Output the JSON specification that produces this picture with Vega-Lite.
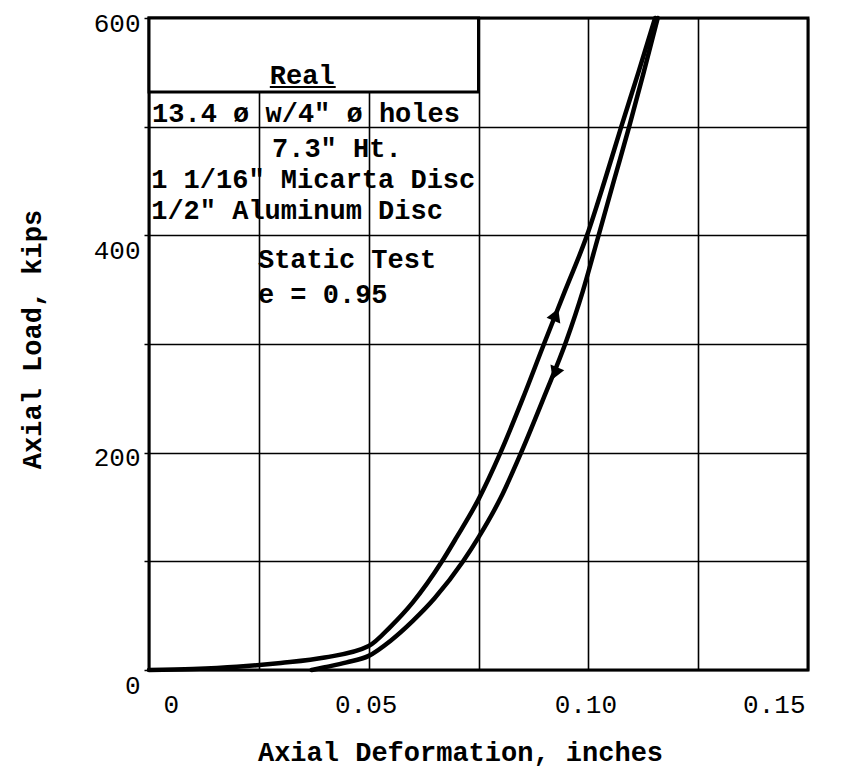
{
  "$schema": "https://vega.github.io/schema/vega-lite/v6.json",
  "width": 659,
  "height": 652,
  "autosize": {"type": "none"},
  "padding": {"left": 149, "top": 18, "right": 42, "bottom": 112},
  "background": "white",
  "config": {
    "view": {"stroke": "black", "strokeWidth": 3},
    "font": "Liberation Mono"
  },
  "datasets": {
    "curves": [
      {"series": "loading", "d": 0, "p": 0},
      {"series": "loading", "d": 0.01, "p": 1},
      {"series": "loading", "d": 0.02, "p": 3},
      {"series": "loading", "d": 0.03, "p": 6.5},
      {"series": "loading", "d": 0.04, "p": 11.5},
      {"series": "loading", "d": 0.05, "p": 22},
      {"series": "loading", "d": 0.055, "p": 40},
      {"series": "loading", "d": 0.06, "p": 62},
      {"series": "loading", "d": 0.0667, "p": 100},
      {"series": "loading", "d": 0.07, "p": 122},
      {"series": "loading", "d": 0.075, "p": 157},
      {"series": "loading", "d": 0.08, "p": 200},
      {"series": "loading", "d": 0.085, "p": 249},
      {"series": "loading", "d": 0.0899, "p": 300},
      {"series": "loading", "d": 0.0948, "p": 350},
      {"series": "loading", "d": 0.0997, "p": 400},
      {"series": "loading", "d": 0.1037, "p": 450},
      {"series": "loading", "d": 0.1075, "p": 500},
      {"series": "loading", "d": 0.1114, "p": 550},
      {"series": "loading", "d": 0.1152, "p": 600},
      {"series": "unloading", "d": 0.037, "p": 0},
      {"series": "unloading", "d": 0.04, "p": 2.5},
      {"series": "unloading", "d": 0.045, "p": 7},
      {"series": "unloading", "d": 0.05, "p": 13},
      {"series": "unloading", "d": 0.055, "p": 27},
      {"series": "unloading", "d": 0.06, "p": 45},
      {"series": "unloading", "d": 0.065, "p": 66},
      {"series": "unloading", "d": 0.0715, "p": 100},
      {"series": "unloading", "d": 0.075, "p": 122},
      {"series": "unloading", "d": 0.08, "p": 158},
      {"series": "unloading", "d": 0.0847, "p": 200},
      {"series": "unloading", "d": 0.09, "p": 252},
      {"series": "unloading", "d": 0.095, "p": 303},
      {"series": "unloading", "d": 0.0987, "p": 348},
      {"series": "unloading", "d": 0.1022, "p": 398},
      {"series": "unloading", "d": 0.1058, "p": 450},
      {"series": "unloading", "d": 0.1093, "p": 500},
      {"series": "unloading", "d": 0.1126, "p": 550},
      {"series": "unloading", "d": 0.1158, "p": 600}
    ],
    "arrows": [
      {"dir": "up", "d": 0.0926, "p": 327},
      {"dir": "down", "d": 0.0924, "p": 273}
    ],
    "box": [
      {"d": 0, "d2": 0.075, "p": 532, "p2": 600}
    ],
    "underline": [
      {"d": 0.0275, "d2": 0.0425, "p": 536.5}
    ],
    "notes": [
      {"text": "Real", "d": 0.0275, "p": 539},
      {"text": "13.4 ø w/4\" ø holes", "d": 0.0007, "p": 504},
      {"text": "7.3\" Ht.", "d": 0.028, "p": 472},
      {"text": "1 1/16\" Micarta Disc", "d": 0.0005, "p": 444},
      {"text": "1/2\" Aluminum Disc", "d": 0.0005, "p": 415},
      {"text": "Static Test", "d": 0.0248, "p": 370},
      {"text": "e = 0.95", "d": 0.0248, "p": 338}
    ]
  },
  "encoding": {
    "x": {
      "field": "d",
      "type": "quantitative",
      "scale": {"domain": [0, 0.15], "nice": false, "zero": false},
      "axis": {
        "title": "Axial Deformation, inches",
        "values": [0, 0.025, 0.05, 0.075, 0.1, 0.125, 0.15],
        "labelExpr": "datum.value === 0 ? '0' : (abs(datum.value * 20 - round(datum.value * 20)) < 0.000001 ? format(datum.value, '.2f') : '')",
        "grid": true,
        "gridColor": "black",
        "gridWidth": 1.6,
        "gridOpacity": 1,
        "domain": false,
        "ticks": false,
        "labelFont": "Liberation Mono",
        "labelFontSize": 26,
        "labelColor": "black",
        "labelPadding": 21,
        "labelOffset": {"condition": {"test": "datum.value === 0", "value": 14}, "value": -3},
        "titleFont": "Liberation Mono",
        "titleFontSize": 27,
        "titleFontWeight": "bold",
        "titleColor": "black",
        "titleX": 311,
        "titleY": 90,
        "titleAlign": "center",
        "titleBaseline": "alphabetic"
      }
    },
    "y": {
      "field": "p",
      "type": "quantitative",
      "scale": {"domain": [0, 600], "nice": false, "zero": false},
      "axis": {
        "title": "Axial Load, kips",
        "values": [0, 100, 200, 300, 400, 500, 600],
        "labelExpr": "datum.value % 200 === 0 ? datum.label : ''",
        "grid": true,
        "gridColor": "black",
        "gridWidth": 1.6,
        "gridOpacity": 1,
        "domain": false,
        "ticks": true,
        "tickSize": 5,
        "tickColor": "black",
        "tickWidth": 1.5,
        "labelFont": "Liberation Mono",
        "labelFontSize": 26,
        "labelColor": "black",
        "labelPadding": 4,
        "labelOffset": {"condition": {"test": "datum.value === 0 || datum.value === 400", "value": 15}, "value": 5},
        "titleFont": "Liberation Mono",
        "titleFontSize": 27,
        "titleFontWeight": "bold",
        "titleColor": "black",
        "titleX": -117,
        "titleY": 321,
        "titleAngle": -90,
        "titleAlign": "center",
        "titleBaseline": "middle"
      }
    }
  },
  "layer": [
    {
      "data": {"name": "box"},
      "mark": {"type": "rect", "fill": "white", "stroke": "black", "strokeWidth": 3},
      "encoding": {
        "x2": {"field": "d2"},
        "y2": {"field": "p2"}
      }
    },
    {
      "data": {"name": "underline"},
      "mark": {"type": "rule", "color": "black", "strokeWidth": 2},
      "encoding": {
        "x2": {"field": "d2"}
      }
    },
    {
      "data": {"name": "notes"},
      "mark": {"type": "text", "align": "left", "baseline": "alphabetic", "font": "Liberation Mono", "fontSize": 27, "fontWeight": "bold", "color": "black"},
      "encoding": {
        "text": {"field": "text"}
      }
    },
    {
      "data": {"name": "curves"},
      "mark": {"type": "line", "strokeWidth": 4.5, "color": "black", "interpolate": "monotone", "strokeJoin": "round", "strokeCap": "round"},
      "encoding": {
        "detail": {"field": "series", "type": "nominal"},
        "order": {"field": "p", "type": "quantitative"}
      }
    },
    {
      "data": {"name": "arrows"},
      "mark": {"type": "point", "filled": true, "color": "black", "size": 220, "angle": 22, "opacity": 1},
      "encoding": {
        "shape": {"field": "dir", "type": "nominal", "scale": {"domain": ["up", "down"], "range": ["triangle-up", "triangle-down"]}, "legend": null}
      }
    }
  ]
}
